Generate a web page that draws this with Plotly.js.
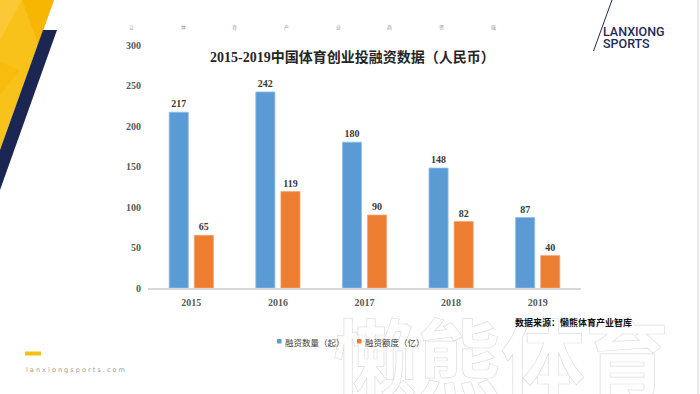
<!DOCTYPE html>
<html>
<head>
<meta charset="utf-8">
<script src="https://cdn.plot.ly/plotly-3.0.1.min.js"></script>
<style>
  html, body { margin: 0; padding: 0; background: #ffffff; }
  #wrap { position: relative; width: 700px; height: 394px; overflow: hidden; background: #ffffff; }
  #wm { position: absolute; left: 333px; top: 312px; font-family: "Noto Sans CJK SC", sans-serif; font-weight: 700;
        font-size: 84px; line-height: 1; color: #ffffff; -webkit-text-stroke: 0.7px #dedede; white-space: nowrap; }
  #chart { position: absolute; left: 0; top: 0; width: 700px; height: 394px; }
</style>
</head>
<body>
<div id="wrap">
  <div id="wm">懒熊体育</div>
  <div id="chart"></div>
</div>
<script>
// ---- data ----
const years = ["2015", "2016", "2017", "2018", "2019"];
const dealCounts = [217, 242, 180, 148, 87];      // 融资数量（起）
const dealAmounts = [65, 119, 90, 82, 40];        // 融资额度（亿）
const seriesNames = ["融资数量（起）", "融资额度（亿）"];
const yTicks = [0, 50, 100, 150, 200, 250, 300];
const topChars = ["让", "体", "育", "产", "业", "商", "资", "强"];

// ---- layout helpers (pixel -> paper) ----
const L = 148, R = 581, T = 45, B = 288;
const W = 700, H = 394;
const px = x => (x - L) / (R - L);
const py = y => (B - y) / (B - T);

const blue = "#5B9BD5", orange = "#ED7D31";
const numFont = "Liberation Serif, Times New Roman, serif";
const cjk = "Noto Sans CJK SC, sans-serif";

const traces = [
  {
    type: "bar", name: seriesNames[0], x: years, y: dealCounts,
    marker: { color: blue, line: { color: "#8fbde6", width: 0.8 } },
    text: dealCounts.map(String), textposition: "outside", cliponaxis: false,
    textfont: { family: numFont, size: 10, color: "#3a3a3a", weight: "bold" },
    showlegend: false, hoverinfo: "x+y"
  },
  {
    type: "bar", name: seriesNames[1], x: years, y: dealAmounts,
    marker: { color: orange, line: { color: "#f3a36f", width: 0.8 } },
    text: dealAmounts.map(String), textposition: "outside", cliponaxis: false,
    textfont: { family: numFont, size: 10, color: "#3a3a3a", weight: "bold" },
    showlegend: false, hoverinfo: "x+y"
  }
];

const shapes = [
  // yellow corner
  { type: "path", xref: "paper", yref: "paper", layer: "below", line: { width: 0 }, fillcolor: "#F9C21B",
    path: `M${px(0)},${py(0)} L${px(54)},${py(0)} L${px(0)},${py(150)} Z` },
  { type: "path", xref: "paper", yref: "paper", layer: "below", line: { width: 0 }, fillcolor: "#F7B602",
    path: `M${px(22)},${py(0)} L${px(54)},${py(0)} L${px(38)},${py(44)} Z` },
  { type: "path", xref: "paper", yref: "paper", layer: "below", line: { width: 0 }, fillcolor: "#F8BC0E",
    path: `M${px(0)},${py(62)} L${px(20)},${py(70)} L${px(0)},${py(95)} Z` },
  { type: "path", xref: "paper", yref: "paper", layer: "below", line: { width: 0 }, fillcolor: "#FAC935",
    path: `M${px(0)},${py(0)} L${px(22)},${py(0)} L${px(0)},${py(40)} Z` },
  // navy stripe
  { type: "path", xref: "paper", yref: "paper", layer: "below", line: { width: 0 }, fillcolor: "#1C2653",
    path: `M${px(43)},${py(30)} L${px(57)},${py(30)} L${px(0)},${py(190)} L${px(0)},${py(150)} Z` },
  // right border line
  { type: "line", xref: "paper", yref: "paper", x0: px(698), x1: px(698), y0: py(0), y1: py(394),
    line: { color: "#dddddd", width: 1.2 } },
  // logo slash
  { type: "line", xref: "paper", yref: "paper", x0: px(612), x1: px(593.5), y0: py(0), y1: py(51),
    line: { color: "#1F2A56", width: 1 } },
  // bottom-left yellow bar
  { type: "rect", xref: "paper", yref: "paper", x0: px(25), x1: px(41), y0: py(351.5), y1: py(355.5),
    line: { width: 0 }, fillcolor: "#F5BE10" },
  // legend squares
  { type: "rect", xref: "paper", yref: "paper", x0: px(277), x1: px(281.5), y0: py(339), y1: py(343.5),
    line: { width: 0 }, fillcolor: blue },
  { type: "rect", xref: "paper", yref: "paper", x0: px(357), x1: px(361.5), y0: py(339), y1: py(343.5),
    line: { width: 0 }, fillcolor: orange }
];

const topX = [131, 183, 234, 286, 338, 389, 441, 493];
const annotations = topChars.map((c, i) => ({
  text: c, xref: "paper", yref: "paper", x: px(topX[i]), y: py(27), xanchor: "center", yanchor: "middle",
  showarrow: false, font: { family: cjk, size: 5, color: "#9a9a9a" }
}));

annotations.push(
  { text: "2015-2019中国体育创业投融资数据（人民币）", xref: "paper", yref: "paper", x: px(352), y: py(57),
    xanchor: "center", yanchor: "middle", showarrow: false,
    font: { family: "Liberation Serif, Noto Sans CJK SC, serif", size: 14, color: "#262626", weight: "bold" } },
  { text: seriesNames[0], xref: "paper", yref: "paper", x: px(283), y: py(341.5), xanchor: "left", yanchor: "middle",
    showarrow: false, font: { family: cjk, size: 8.5, color: "#404040" } },
  { text: seriesNames[1], xref: "paper", yref: "paper", x: px(363), y: py(341.5), xanchor: "left", yanchor: "middle",
    showarrow: false, font: { family: cjk, size: 8.5, color: "#404040" } },
  { text: "数据来源：懒熊体育产业智库", xref: "paper", yref: "paper", x: px(513), y: py(322), xanchor: "left", yanchor: "middle",
    showarrow: false, font: { family: cjk, size: 9, color: "#111111", weight: "bold" } },
  { text: "LANXIONG", xref: "paper", yref: "paper", x: px(601), y: py(31), xanchor: "left", yanchor: "middle",
    showarrow: false, font: { family: "Roboto, Inter, sans-serif", size: 12.5, color: "#1F2A56", weight: 500 } },
  { text: "SPORTS", xref: "paper", yref: "paper", x: px(601), y: py(44), xanchor: "left", yanchor: "middle",
    showarrow: false, font: { family: "Roboto, Inter, sans-serif", size: 12.5, color: "#1F2A56", weight: 500 } },
  { text: "l a n x i o n g s p o r t s . c o m", xref: "paper", yref: "paper", x: px(24), y: py(370), xanchor: "left", yanchor: "middle",
    showarrow: false, font: { family: "DejaVu Sans, sans-serif", size: 6.5, color: "#9a9a9a" } }
);

const layout = {
  width: W, height: H,
  margin: { l: L, r: W - R, t: T, b: H - B, pad: 0 },
  paper_bgcolor: "rgba(0,0,0,0)", plot_bgcolor: "rgba(0,0,0,0)",
  barmode: "group", bargap: 0.42, bargroupgap: 0.24,
  showlegend: false,
  xaxis: {
    type: "category", showgrid: false, zeroline: false,
    showline: true, linecolor: "#d9d9d9", linewidth: 1.5,
    ticks: "", ticklabelstandoff: 4,
    tickfont: { family: numFont, size: 10, color: "#595959", weight: "bold" }
  },
  yaxis: {
    range: [0, 300], tickvals: yTicks, ticktext: yTicks.map(String),
    showgrid: false, zeroline: false, showline: false, ticks: "", ticklabelstandoff: 6,
    tickfont: { family: numFont, size: 10, color: "#595959", weight: "bold" }
  },
  shapes: shapes,
  annotations: annotations
};

Plotly.newPlot("chart", traces, layout, { displayModeBar: false, staticPlot: true });
</script>
</body>
</html>
